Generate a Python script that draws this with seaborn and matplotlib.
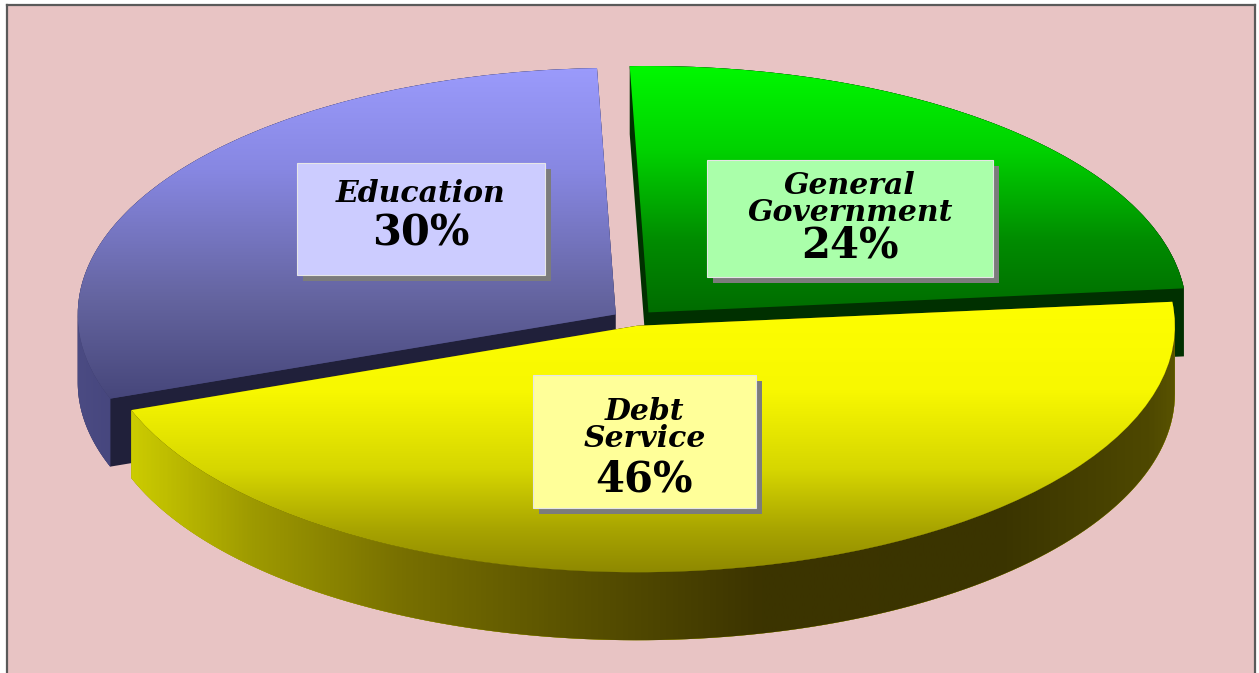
import numpy as np
import matplotlib
matplotlib.use("Agg")
import matplotlib.pyplot as plt
import seaborn as sns
from matplotlib.patches import Polygon, Rectangle
from matplotlib.colors import LinearSegmentedColormap

# ---------------- data ----------------
categories = ["Education", "Debt Service", "General Government"]
shares = [30, 46, 24]
name_labels = ["Education", "Debt\nService", "General\nGovernment"]
pct_labels = ["30%", "46%", "24%"]

# ---------------- style ----------------
sns.set_theme(style="white")
plt.rcParams["font.family"] = ["DejaVu Serif", "DejaVu Sans"]

W, H = 1259, 673
S = 0.458            # vertical squash of the tilted disc
R = 538              # radius (px in x)
CX, CY_PX = 634, 320
DEPTH_PX = 68
explode = [22, 13, 22]   # offsets in data units

styles = {
    "Education": dict(
        top=[("#9d9dff", 55), ("#8787e2", 170), ("#64649f", 300), ("#46467a", 400)],
        band=[("#4c4c84", 70), ("#43437a", 140)], cut="#20203a", fall="#44447a"),
    "Debt Service": dict(
        top=[("#ffff00", 290), ("#f8f800", 390), ("#d6d600", 470), ("#a8a400", 530), ("#8a8400", 580)],
        band=[("#cccc00", 130), ("#9e9a00", 250), ("#787000", 400), ("#5c5400", 560),
              ("#3c3400", 760), ("#3a3400", 1000), ("#4e4800", 1150), ("#625c00", 1200)],
        cut="#4a4400", fall="#4a4400"),
    "General Government": dict(
        top=[("#00ff00", 50), ("#00d200", 150), ("#008c00", 240), ("#006400", 330)],
        band=[("#004400", 600), ("#003c00", 1200)], cut="#003000", fall="#003000"),
}
box_style = {
    "Education": dict(rect=(297, 163, 545, 275), fc="#ccccff", name_y=193, pct_y=233),
    "Debt Service": dict(rect=(533, 375, 756, 508), fc="#ffff99", name_y=425, pct_y=479),
    "General Government": dict(rect=(707, 160, 993, 277), fc="#aaffaa", name_y=199, pct_y=246),
}


def py2d(py):
    return (H - py) / S


def cmap_from(stops):
    vals = [p for _, p in stops]
    lo, hi = min(vals), max(vals)
    return LinearSegmentedColormap.from_list(
        "g", [((p - lo) / (hi - lo), c) for c, p in stops]), lo, hi


def vgrad(ax, clip, stops, z):
    cmap, lo, hi = cmap_from(stops)
    arr = np.linspace(hi, lo, 512).reshape(-1, 1)  # bottom row = largest py
    im = ax.imshow(arr, cmap=cmap, vmin=lo, vmax=hi, origin="lower", aspect="auto",
                   extent=[0, W, py2d(hi), py2d(lo)], interpolation="bilinear", zorder=z)
    im.set_clip_path(clip)


def hgrad(ax, clip, stops, z):
    cmap, lo, hi = cmap_from(stops)
    arr = np.linspace(lo, hi, 512).reshape(1, -1)
    im = ax.imshow(arr, cmap=cmap, vmin=lo, vmax=hi, origin="lower", aspect="auto",
                   extent=[lo, hi, 0, H / S], interpolation="bilinear", zorder=z)
    im.set_clip_path(clip)


def arc(w, t0, t1, dy=0.0, n=120):
    t = np.radians(np.linspace(t0, t1, n))
    cx, cy = w.center
    return np.column_stack([cx + w.r * np.cos(t), cy + w.r * np.sin(t) - dy])


def hull(pts):
    pts = sorted(map(tuple, pts))
    def cross(o, a, b):
        return (a[0] - o[0]) * (b[1] - o[1]) - (a[1] - o[1]) * (b[0] - o[0])
    lower, upper = [], []
    for p in pts:
        while len(lower) >= 2 and cross(lower[-2], lower[-1], p) <= 0:
            lower.pop()
        lower.append(p)
    for p in reversed(pts):
        while len(upper) >= 2 and cross(upper[-2], upper[-1], p) <= 0:
            upper.pop()
        upper.append(p)
    return np.array(lower[:-1] + upper[:-1])


# ---------------- figure ----------------
fig = plt.figure(figsize=(W / 100, H / 100), dpi=100, facecolor="white")
bg = fig.add_axes([7 / W, 0, (1255 - 7) / W, (H - 5) / H])
bg.set_facecolor("#e8c4c4")
bg.set_xticks([]); bg.set_yticks([])
for sp in ["left", "top", "right"]:
    bg.spines[sp].set_color("#5a5a5a")
    bg.spines[sp].set_linewidth(1.6)
bg.spines["bottom"].set_visible(False)

ax = fig.add_axes([0, 0, 1, 1])
ax.set_facecolor("none")
wedges, _ = ax.pie(shares, startangle=92, counterclock=True, radius=R,
                   center=(CX, py2d(CY_PX)), explode=explode,
                   colors=[styles[c]["fall"] for c in categories],
                   wedgeprops=dict(linewidth=0))
ax.set_aspect("auto")
ax.set_xlim(0, W)
ax.set_ylim(0, H / S)
ax.axis("off")

D = DEPTH_PX / S
# back slices first, front (Debt Service) last
order = ["Education", "General Government", "Debt Service"]
for k, cat in enumerate(order):
    i = categories.index(cat)
    w = wedges[i]
    st = styles[cat]
    base = 10 * k
    top_pts = np.vstack([[w.center], arc(w, w.theta1, w.theta2)])
    bot_pts = top_pts - np.array([0, D])
    hp = Polygon(hull(np.vstack([top_pts, bot_pts])), closed=True,
                 fc=st["cut"], ec="none", zorder=base + 1)
    ax.add_patch(hp)
    # visible outer curved side
    for off in (-360, 0, 360):
        lo = max(w.theta1, 180 + off)
        hi = min(w.theta2, 360 + off)
        if hi > lo:
            band = np.vstack([arc(w, lo, hi), arc(w, hi, lo, dy=D)])
            bp = Polygon(band, closed=True, fc=st["band"][0][0], ec="none", zorder=base + 2)
            ax.add_patch(bp)
            hgrad(ax, bp, st["band"], base + 3)
    w.set_zorder(base + 4)
    vgrad(ax, w, st["top"], base + 5)

# ---------------- labels ----------------
lab = fig.add_axes([0, 0, 1, 1])
lab.set_facecolor("none")
lab.set_xlim(0, W)
lab.set_ylim(H, 0)
lab.axis("off")
for cat, name, pct in zip(categories, name_labels, pct_labels):
    b = box_style[cat]
    x0, y0, x1, y1 = b["rect"]
    lab.add_patch(Rectangle((x0 + 6, y0 + 6), x1 - x0, y1 - y0, fc="#7c7c7c", ec="none", zorder=1))
    lab.add_patch(Rectangle((x0, y0), x1 - x0, y1 - y0, fc=b["fc"], ec="#e6e6e6", lw=0.8, zorder=2))
    cx = (x0 + x1) / 2
    lab.text(cx, b["name_y"], name, ha="center", va="center", fontsize=21.5,
             fontweight="bold", fontstyle="italic", family="DejaVu Serif",
             linespacing=0.9, color="black", zorder=3)
    lab.text(cx, b["pct_y"], pct, ha="center", va="center", fontsize=30,
             fontweight="bold", family="DejaVu Serif", color="black", zorder=3)

fig.savefig("out.png", dpi=100, facecolor="white")
